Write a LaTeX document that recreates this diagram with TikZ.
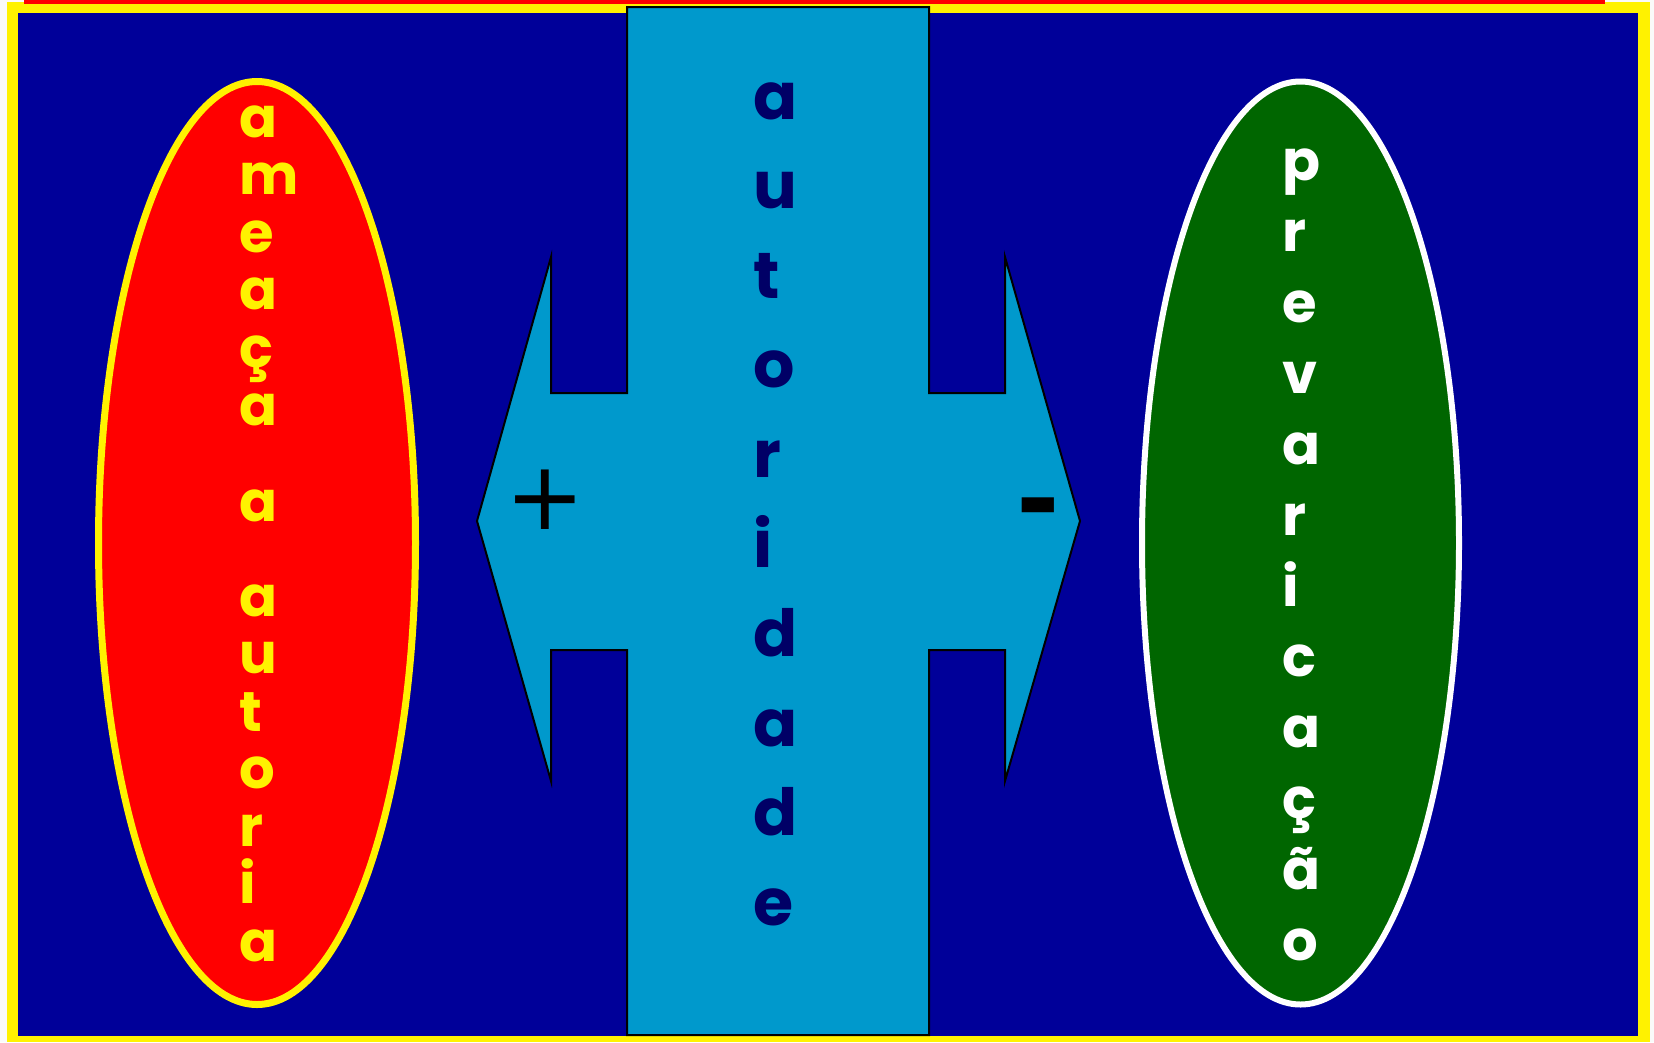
\documentclass[tikz,border=0pt]{standalone}
\usepackage{fontspec}
\usetikzlibrary{shapes.geometric}
\newfontfamily\comic{Poppins}
\newfontfamily\djv{DejaVu Sans}
\definecolor{bgblue}{RGB}{0,0,153}
\definecolor{cyanbox}{RGB}{0,153,204}
\definecolor{navytxt}{RGB}{0,0,102}
\definecolor{darkgreen}{RGB}{0,102,0}
\definecolor{paper}{RGB}{250,250,250}
\begin{document}
\begin{tikzpicture}[x=1pt,y=-1pt,
  letter/.style={anchor=base west, inner sep=0pt, font=\comic\bfseries\fontsize{56}{56}\selectfont},
  bigletter/.style={anchor=base west, inner sep=0pt, font=\comic\bfseries\fontsize{65}{65}\selectfont},
  oval/.style={ellipse, line width=7pt, minimum width=317pt, minimum height=923pt, inner sep=0pt},
  sign/.style={inner sep=0pt, text=black}]
\useasboundingbox (0,0) rectangle (1654,1042);
\fill[paper] (0,0) rectangle (1654,1042);
\fill[yellow] (7,2) rectangle (1650,1042);
\fill[bgblue] (18,13) rectangle (1638,1036);
\fill[red] (24,0) rectangle (1605,4);

\node[oval, draw=yellow, fill=red] (threat) at (257,543) {};
\node[oval, draw=white, line width=6pt, fill=darkgreen] (prev) at (1300.5,543) {};

\draw[fill=cyanbox, line width=2pt, line join=miter]
  (627,7) -- (929,7) -- (929,393) -- (1005,393) -- (1005,257) -- (1080,521)
  -- (1005,781) -- (1005,650) -- (929,650) -- (929,1035) -- (627,1035)
  -- (627,650) -- (551,650) -- (551,781) -- (477,521) -- (551,257)
  -- (551,393) -- (627,393) -- cycle;

\foreach \ch/\yy [count=\i] in {a/137, m/194.6, e/252.2, a/309.8, ç/367.4, a/425,
    a/521.5, a/616, u/673.5, t/731, o/788.5, r/846, i/903.5, a/961}
  \node[letter, text=yellow] (L\i) at (239,\yy) {\ch};

\foreach \ch/\yy [count=\i] in {a/119, u/208.6, t/298.2, o/387.8, r/477.4, i/567,
    d/656.6, a/746.2, d/835.8, e/925.4}
  \node[bigletter, text=navytxt] (M\i) at (753,\yy) {\ch};

\foreach \ch/\yy [count=\i] in {p/180, r/251, e/322, v/393, a/464, r/535, i/606,
    c/676, a/747, ç/818, ã/889, o/960}
  \node[letter, text=white] (R\i) at (1282,\yy) {\ch};

\node[sign, font=\djv\fontsize{95}{95}\selectfont] (plus) at (545.5,499.5) {+};
\node[sign, font=\djv\bfseries\fontsize{105}{105}\selectfont] (minus) at (1038,517) {-};
\end{tikzpicture}
\end{document}
